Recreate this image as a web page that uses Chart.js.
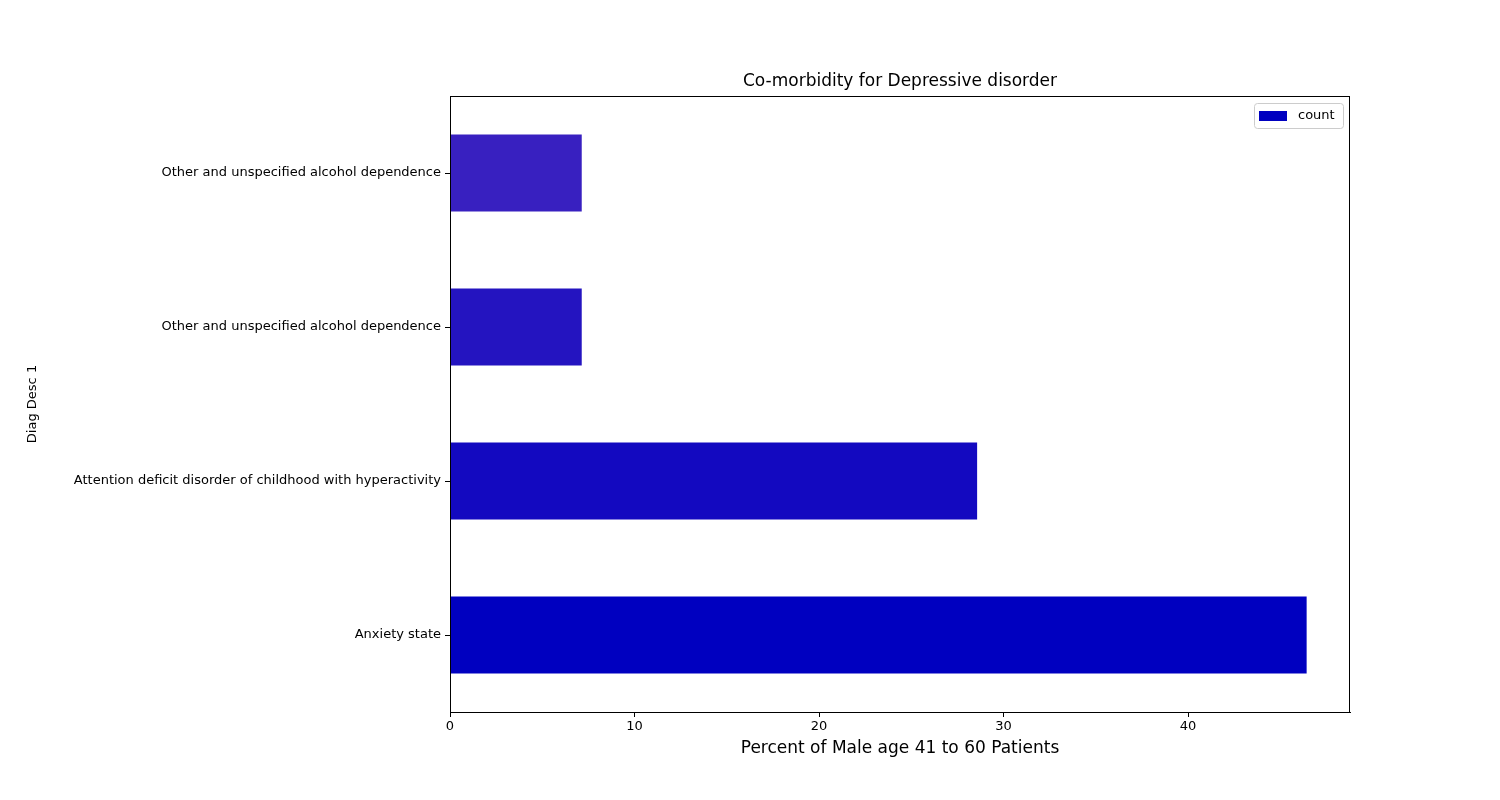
<!DOCTYPE html>
<html>
<head>
<meta charset="utf-8">
<script src="https://cdn.jsdelivr.net/npm/chart.js@4"></script>
<style>
  body { margin: 0; background: #fff; }
  #wrap { width: 1500px; height: 800px; }
</style>
</head>
<body>
<div id="wrap"><canvas id="chart"></canvas></div>
<script>
const categories = [
  'Other and unspecified alcohol dependence',
  'Other and unspecified alcohol dependence',
  'Attention deficit disorder of childhood with hyperactivity',
  'Anxiety state'
];
const counts = [7.14, 7.14, 28.57, 46.43];
const barColors = ['#3820c0', '#2414c0', '#1309c0', '#0000c0'];
const xTicks = [0, 10, 20, 30, 40];

const FONT = 'DejaVu Sans';

// titles, frame and legend drawn like matplotlib
const decorations = {
  id: 'decorations',
  afterDraw(chart) {
    const ctx = chart.ctx;
    const a = chart.chartArea;
    ctx.save();
    ctx.strokeStyle = '#000';
    ctx.lineWidth = 1;
    ctx.strokeRect(a.left + 0.5, a.top + 0.5, a.right - a.left - 1, a.bottom - a.top);

    ctx.fillStyle = '#000';
    ctx.textAlign = 'center';
    ctx.textBaseline = 'middle';
    ctx.font = '17px ' + FONT;
    ctx.fillText('Co-morbidity for Depressive disorder', (a.left + a.right) / 2, 82);
    ctx.fillText('Percent of Male age 41 to 60 Patients', (a.left + a.right) / 2, 749);

    ctx.font = '13px ' + FONT;
    ctx.translate(33, (a.top + a.bottom) / 2);
    ctx.rotate(-Math.PI / 2);
    ctx.fillText('Diag Desc 1', 0, 0);
    ctx.restore();

    // legend
    ctx.save();
    const lx = 1254, ly = 103, lw = 89, lh = 25;
    ctx.strokeStyle = '#ccc';
    ctx.fillStyle = '#fff';
    ctx.beginPath();
    ctx.roundRect(lx + 0.5, ly + 0.5, lw, lh, 3);
    ctx.fill();
    ctx.stroke();
    ctx.fillStyle = barColors[barColors.length - 1];
    ctx.fillRect(lx + 5, ly + 8, 28, 10);
    ctx.fillStyle = '#000';
    ctx.font = '13px ' + FONT;
    ctx.textBaseline = 'middle';
    ctx.fillText('count', lx + 44, ly + 13);
    ctx.restore();
  }
};

new Chart(document.getElementById('chart'), {
  type: 'bar',
  data: {
    labels: categories,
    datasets: [{
      label: 'count',
      data: counts,
      backgroundColor: barColors,
      categoryPercentage: 1,
      barPercentage: 0.5
    }]
  },
  options: {
    indexAxis: 'y',
    responsive: true,
    maintainAspectRatio: false,
    animation: false,
    layout: { padding: { top: 96, right: 150, left: 0, bottom: 0 } },
    plugins: { legend: { display: false }, tooltip: { enabled: false } },
    scales: {
      x: {
        min: 0,
        max: 48.78,
        afterFit(scale) { scale.height = 88; },
        afterBuildTicks(scale) { scale.ticks = xTicks.map(v => ({ value: v })); },
        grid: { display: true, drawOnChartArea: false, tickLength: 5, color: '#000' },
        border: { color: '#000' },
        ticks: { color: '#000', font: { family: FONT, size: 13 }, padding: 2 }
      },
      y: {
        afterFit(scale) { scale.width = 450; },
        grid: { display: true, drawOnChartArea: false, tickLength: 5, color: '#000', offset: false },
        border: { color: '#000' },
        ticks: { color: '#000', font: { family: FONT, size: 13 }, padding: 4 }
      }
    }
  },
  plugins: [decorations]
});
</script>
</body>
</html>
